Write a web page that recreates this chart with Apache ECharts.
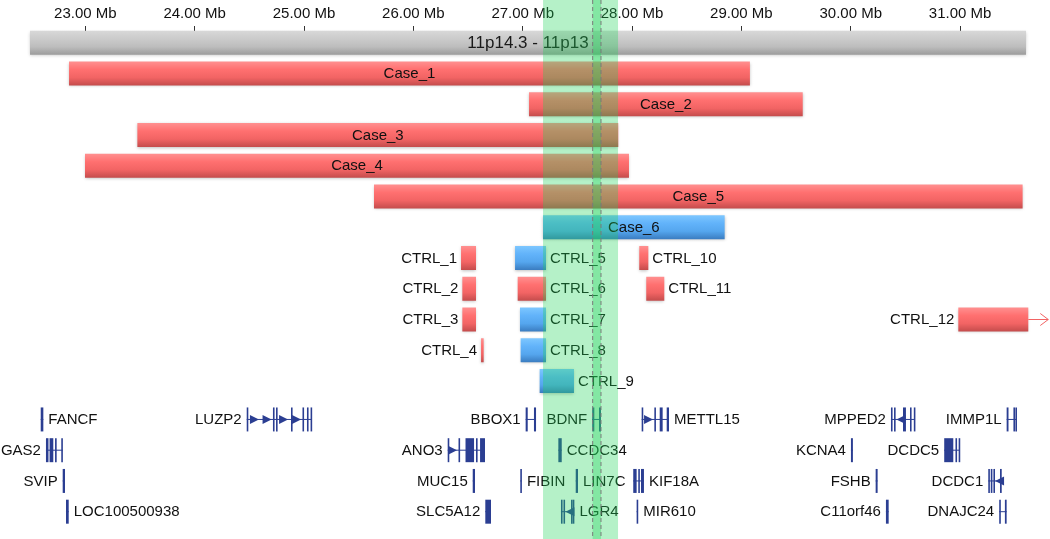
<!DOCTYPE html>
<html><head><meta charset="utf-8">
<script src="https://cdn.jsdelivr.net/npm/echarts@6/dist/echarts.min.js"></script>
<style>html,body{margin:0;padding:0;background:#fff}#c{width:1050px;height:539px}</style>
</head><body><div id="c"></div>
<script>
// ---------------- DATA ----------------
const tickValues = [23, 24, 25, 26, 27, 28, 29, 30, 31];
const chromBand = '11p14.3 - 11p13';
const chromRange = [22.494, 31.603];

const caseNames  = ['Case_1', 'Case_2', 'Case_3', 'Case_4', 'Case_5', 'Case_6'];
const caseStarts = [22.851, 27.058, 23.476, 22.997, 25.640, 27.186];
const caseEnds   = [29.078, 29.561, 27.874, 27.972, 31.572, 28.847];
const caseTypes  = ['loss', 'loss', 'loss', 'loss', 'loss', 'gain'];

const ctrlNames  = ['CTRL_1', 'CTRL_2', 'CTRL_3', 'CTRL_4', 'CTRL_5', 'CTRL_6', 'CTRL_7', 'CTRL_8', 'CTRL_9', 'CTRL_10', 'CTRL_11', 'CTRL_12'];
const ctrlStarts = [26.436, 26.448, 26.448, 26.619, 26.930, 26.954, 26.975, 26.981, 27.155, 28.066, 28.130, 30.984];
const ctrlEnds   = [26.573, 26.573, 26.573, 26.643, 27.213, 27.213, 27.213, 27.213, 27.469, 28.149, 28.295, 31.624];
const ctrlTypes  = ['loss', 'loss', 'loss', 'loss', 'gain', 'loss', 'gain', 'gain', 'gain', 'loss', 'loss', 'loss'];
const ctrlLanes  = [0, 1, 2, 3, 0, 1, 2, 3, 4, 0, 1, 2];

const highlightRegion = [27.186, 27.872];
const focusRegion = [27.640, 27.716];

const geneNames = ['FANCF', 'LUZP2', 'BBOX1', 'BDNF', 'METTL15', 'MPPED2', 'IMMP1L',
  'GAS2', 'ANO3', 'CCDC34', 'KCNA4', 'DCDC5',
  'SVIP', 'MUC15', 'FIBIN', 'LIN7C', 'KIF18A', 'FSHB', 'DCDC1',
  'LOC100500938', 'SLC5A12', 'LGR4', 'MIR610', 'C11orf46', 'DNAJC24'];
const geneLanes = [0, 0, 0, 0, 0, 0, 0, 1, 1, 1, 1, 1, 2, 2, 2, 2, 2, 2, 2, 3, 3, 3, 3, 3, 3];
const geneStrands = ['-', '+', '+', '-', '+', '-', '-', '+', '+', '-', '-', '-',
  '-', '-', '+', '-', '-', '+', '-', '+', '-', '-', '+', '+', '+'];
const geneExons = [
  [[22.592, 22.616]],
  [[24.476, 24.489], [24.716, 24.729], [24.744, 24.757], [24.881, 24.894], [24.986, 24.999], [25.027, 25.040], [25.060, 25.073]],
  [[27.027, 27.046], [27.103, 27.122]],
  [[27.636, 27.655], [27.698, 27.716]],
  [[28.088, 28.099], [28.204, 28.216], [28.253, 28.280], [28.317, 28.338]],
  [[30.368, 30.382], [30.396, 30.409], [30.478, 30.505], [30.542, 30.553], [30.577, 30.588]],
  [[31.426, 31.443], [31.488, 31.502], [31.506, 31.517]],
  [[22.640, 22.663], [22.673, 22.707], [22.723, 22.738], [22.780, 22.793]],
  [[26.314, 26.326], [26.413, 26.427], [26.477, 26.555], [26.573, 26.587], [26.610, 26.655]],
  [[27.326, 27.357]],
  [[30.002, 30.020]],
  [[30.855, 30.938], [30.958, 30.969], [30.987, 30.999]],
  [[22.793, 22.814]],
  [[26.543, 26.564]],
  [[26.978, 26.991]],
  [[27.485, 27.506]],
  [[28.011, 28.042], [28.057, 28.066], [28.082, 28.109]],
  [[30.228, 30.246]],
  [[31.258, 31.269], [31.281, 31.292], [31.305, 31.319], [31.365, 31.381]],
  [[22.823, 22.848]],
  [[26.658, 26.710]],
  [[27.350, 27.364], [27.373, 27.385], [27.442, 27.451], [27.458, 27.469]],
  [[28.042, 28.053]],
  [[30.322, 30.347]],
  [[31.358, 31.372], [31.410, 31.426]]
];
const geneArrows = [
  [], [24.588, 24.703, 24.854, 24.973], [], [], [28.192], [30.418], [],
  [], [26.399], [], [], [],
  [], [], [], [], [], [], [31.320],
  [], [], [27.391], [], [], []
];

// ---------------- RENDERING ----------------
const FONT = '"Liberation Sans", Arial, Helvetica, sans-serif';
const CHROM_ROW = -1, CASE_ROW0 = 0, CTRL_ROW0 = 6, GENE_ROW0 = 11.25;
const BAR_H = 0.78;
const LEFT_LABELED_CTRL = new Set(['CTRL_1', 'CTRL_2', 'CTRL_3', 'CTRL_4', 'CTRL_12']);
const RIGHT_LABELED_GENES = new Set(['FANCF', 'LOC100500938', 'METTL15', 'CCDC34', 'FIBIN', 'LIN7C', 'KIF18A', 'LGR4', 'MIR610']);
const GENE_COLOR = '#2b3e92';

function vgrad(stops) {
  return new echarts.graphic.LinearGradient(0, 0, 0, 1, stops.map((c, i) => ({ offset: i / (stops.length - 1), color: c })));
}
const FILLS = {
  loss: () => vgrad(['#ff9090', '#ff7070', '#f26464', '#c44c4c']),
  gain: () => vgrad(['#7dc7ff', '#62b3fa', '#55a6ee', '#3a7cc0'])
};

const cnvData = [];
caseNames.forEach((n, i) => cnvData.push([caseStarts[i], caseEnds[i], CASE_ROW0 + i, 0, i]));
ctrlNames.forEach((n, i) => cnvData.push([ctrlStarts[i], ctrlEnds[i], CTRL_ROW0 + ctrlLanes[i], 1, i]));

function cnvItem(params, api) {
  const s = api.value(0), e = api.value(1), row = api.value(2), grp = api.value(3), i = api.value(4);
  const name = grp === 0 ? caseNames[i] : ctrlNames[i];
  const type = grp === 0 ? caseTypes[i] : ctrlTypes[i];
  const p0 = api.coord([s, row]), p1 = api.coord([e, row]);
  const h = api.size([0, BAR_H])[1];
  const w = Math.max(p1[0] - p0[0], 2);
  const y = p0[1];
  const children = [{
    type: 'rect',
    shape: { x: p0[0], y: y - h / 2, width: w, height: h },
    style: { fill: FILLS[type](), shadowBlur: 3, shadowOffsetY: 1, shadowOffsetX: 0, shadowColor: 'rgba(0,0,0,0.25)' }
  }];
  let tx, align;
  if (grp === 0) { tx = p0[0] + w / 2; align = 'center'; }
  else if (LEFT_LABELED_CTRL.has(name)) { tx = p0[0] - 4; align = 'right'; }
  else { tx = p0[0] + w + 4; align = 'left'; }
  children.push({
    type: 'text',
    style: { text: name, x: tx, y: y + 0.5, align: align, verticalAlign: 'middle', fill: '#111', fontSize: 15, fontFamily: FONT }
  });
  if (e > chromRange[1]) {
    const xa = p0[0] + w, xb = xa + 20;
    const col = '#f26464';
    children.push({ type: 'line', shape: { x1: xa, y1: y, x2: xb, y2: y }, style: { stroke: col, lineWidth: 1 } });
    children.push({ type: 'polyline', shape: { points: [[xb - 8, y - 6], [xb, y], [xb - 8, y + 6]] }, style: { stroke: col, lineWidth: 1, fill: null } });
  }
  return { type: 'group', children: children };
}

function chromItem(params, api) {
  const p0 = api.coord([api.value(0), CHROM_ROW]), p1 = api.coord([api.value(1), CHROM_ROW]);
  const h = api.size([0, BAR_H])[1];
  return {
    type: 'group', children: [
      { type: 'rect', shape: { x: p0[0], y: p0[1] - h / 2, width: p1[0] - p0[0], height: h },
        style: { fill: vgrad(['#d8d8d8', '#cbcbcb', '#bdbdbd', '#9c9c9c']), shadowBlur: 3, shadowOffsetY: 1, shadowColor: 'rgba(0,0,0,0.2)' } },
      { type: 'text', style: { text: chromBand, x: (p0[0] + p1[0]) / 2, y: p0[1] + 0.5, align: 'center', verticalAlign: 'middle', fill: '#1a1a1a', fontSize: 17, fontFamily: FONT } }
    ]
  };
}

const geneData = geneNames.map((n, i) => {
  const ex = geneExons[i];
  return [Math.min(...ex.map(a => a[0])), Math.max(...ex.map(a => a[1])), GENE_ROW0 + geneLanes[i], i];
});

function geneItem(params, api) {
  const row = api.value(2), i = api.value(3);
  const c0 = api.coord([api.value(0), row]), c1 = api.coord([api.value(1), row]);
  const h = api.size([0, BAR_H])[1];
  const y = c0[1];
  const children = [];
  children.push({ type: 'line', shape: { x1: c0[0], y1: y, x2: c1[0], y2: y }, style: { stroke: GENE_COLOR, lineWidth: 1 } });
  let maxX = c1[0];
  geneExons[i].forEach(([a, b]) => {
    const xa = api.coord([a, row])[0], xb = api.coord([b, row])[0];
    const w = Math.max(xb - xa, 1.6);
    maxX = Math.max(maxX, xa + w);
    children.push({ type: 'rect', shape: { x: xa, y: y - h / 2, width: w, height: h }, style: { fill: GENE_COLOR } });
  });
  const dir = geneStrands[i] === '+' ? 1 : -1;
  geneArrows[i].forEach(t => {
    const xt = api.coord([t, row])[0];
    children.push({ type: 'polygon', shape: { points: [[xt, y], [xt - dir * 9, y - 4.5], [xt - dir * 9, y + 4.5]] }, style: { fill: GENE_COLOR } });
  });
  const name = geneNames[i];
  const right = RIGHT_LABELED_GENES.has(name);
  children.push({
    type: 'text',
    style: { text: name, x: right ? maxX + 5 : c0[0] - 5, y: y + 0.5, align: right ? 'left' : 'right', verticalAlign: 'middle', fill: '#111', fontSize: 15, fontFamily: FONT }
  });
  return { type: 'group', children: children };
}

function bandItem(params, api) {
  const x0 = api.coord([api.value(0), 0])[0], x1 = api.coord([api.value(1), 0])[0];
  const f0 = api.coord([api.value(2), 0])[0], f1 = api.coord([api.value(3), 0])[0];
  const H = api.getHeight();
  return {
    type: 'group', children: [
      { type: 'rect', shape: { x: x0, y: 0, width: x1 - x0, height: H }, style: { fill: 'rgba(30,212,88,0.33)' } },
      { type: 'rect', shape: { x: f0, y: 0, width: f1 - f0, height: H }, style: { fill: 'rgba(30,212,88,0.33)' } },
      { type: 'line', shape: { x1: f0, y1: 0, x2: f0, y2: H }, style: { stroke: '#7a7a7a', lineWidth: 1, lineDash: [4, 3] } },
      { type: 'line', shape: { x1: f1, y1: 0, x2: f1, y2: H }, style: { stroke: '#7a7a7a', lineWidth: 1, lineDash: [4, 3] } }
    ]
  };
}

const chart = echarts.init(document.getElementById('c'), null, { renderer: 'canvas' });
chart.setOption({
  animation: false,
  backgroundColor: '#ffffff',
  grid: { left: 30, right: 24, top: 31, bottom: 0, containLabel: false, outerBoundsMode: 'none' },
  xAxis: {
    type: 'value', position: 'top', min: chromRange[0], max: chromRange[1],
    axisLine: { show: true, onZero: false, lineStyle: { color: 'rgba(0,0,0,0)' } },
    splitLine: { show: false },
    axisTick: { show: true, customValues: tickValues, length: 5, inside: false, lineStyle: { color: '#333', width: 1 } },
    axisLabel: { show: true, customValues: tickValues, formatter: v => v.toFixed(2) + ' Mb', fontSize: 15, color: '#111', margin: 10, fontFamily: FONT }
  },
  yAxis: { type: 'value', inverse: true, min: -1.382, max: 15.138, show: false },
  series: [
    { type: 'custom', name: 'chromosome', renderItem: chromItem, data: [[chromRange[0], chromRange[1]]], encode: { x: [0, 1] }, clip: false, z: 2, silent: true },
    { type: 'custom', name: 'cnv', renderItem: cnvItem, data: cnvData, encode: { x: [0, 1], y: 2 }, clip: false, z: 3, silent: true },
    { type: 'custom', name: 'genes', renderItem: geneItem, data: geneData, encode: { x: [0, 1], y: 2 }, clip: false, z: 3, silent: true },
    { type: 'custom', name: 'highlight', renderItem: bandItem, data: [[highlightRegion[0], highlightRegion[1], focusRegion[0], focusRegion[1]]], encode: { x: [0, 1] }, clip: false, z: 10, silent: true }
  ]
});
</script></body></html>
